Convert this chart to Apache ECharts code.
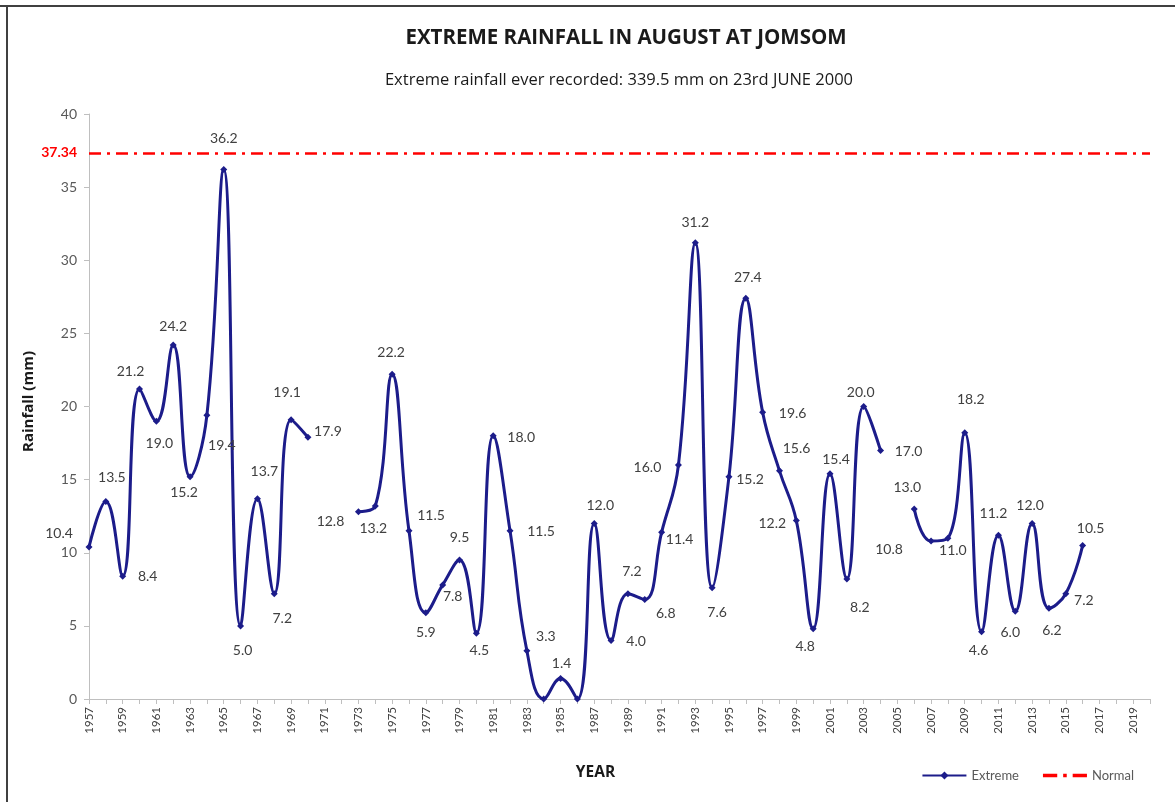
<!DOCTYPE html>
<html>
<head>
<meta charset="utf-8">
<script src="https://cdn.jsdelivr.net/npm/echarts@6/dist/echarts.min.js"></script>
<style>
html,body{margin:0;padding:0;background:#fff;}
#c{width:1175px;height:802px;}
</style>
</head>
<body>
<div id="c"></div>
<script>
const years = ['1957','1958','1959','1960','1961','1962','1963','1964','1965','1966','1967','1968','1969','1970',
  '1971','1972','1973','1974','1975','1976','1977','1978','1979','1980','1981','1982','1983','1984','1985','1986',
  '1987','1988','1989','1990','1991','1992','1993','1994','1995','1996','1997','1998','1999','2000','2001','2002',
  '2003','2004','2005','2006','2007','2008','2009','2010','2011','2012','2013','2014','2015','2016','2017','2018',
  '2019','2020'];
const extreme = [10.4,13.5,8.4,21.2,19.0,24.2,15.2,19.4,36.2,5.0,13.7,7.2,19.1,17.9,
  null,null,
  12.8,13.2,22.2,11.5,5.9,7.8,9.5,4.5,18.0,11.5,3.3,0,1.4,0,12.0,4.0,7.2,6.8,11.4,16.0,
  31.2,7.6,15.2,27.4,19.6,15.6,12.2,4.8,15.4,8.2,20.0,17.0,
  null,
  13.0,10.8,11.0,18.2,4.6,11.2,6.0,12.0,6.2,7.2,10.5,
  null,null,null,null];
const normalValue = 37.34;
const yTicks = {min:0, max:40, interval:5};

// label placement (style only): offset of each data label from its point
const labelOffsets = [[-30,-13],[6,-24],[25,0],[-9,-17],[3,22],[0,-19],[-6,16],[15,30],[0,-31],[2,25],[7,-27],[8,25],[-4,-27],[20,-6],
  null,null,
  [-28,10],[-2,23],[-1,-22],[22,-15],[0,20],[10,12],[0,-23],[3,17],[28,2],[31,1],[19,-14],null,[1,-15],null,[6,-18],[25,1],[4,-22],[21,14],[18,7],[-31,2],
  [0,-20],[5,25],[21,3],[2,-21],[30,1],[17,-22],[-24,3],[-8,18],[6,-14],[13,28],[-3,-14],[28,1],
  null,
  [-7,-21],[-42,8],[5,12],[6,-33],[-3,19],[-5,-22],[-5,21],[-2,-18],[3,22],[18,7],[8,-17],
  null,null,null,null];

const FONT = 'Lato, "Open Sans", sans-serif';
const chart = echarts.init(document.getElementById('c'));
const extremeData = extreme.map((v, i) => {
  const off = labelOffsets[i];
  return {
    value: v,
    label: off ? {show:true, position:'inside', offset: off} : {show:false}
  };
});

chart.setOption({
  animation:false,
  backgroundColor:'#fff',
  title:[
    {text:'EXTREME RAINFALL IN AUGUST AT JOMSOM', left:621, top:23, textAlign:'center',
     textStyle:{fontFamily:'"Open Sans", sans-serif', fontWeight:'bold', fontSize:20.5, color:'#1a1a1a'}},
    {text:'Extreme rainfall ever recorded: 339.5 mm on 23rd JUNE 2000', left:614, top:67, textAlign:'center',
     textStyle:{fontFamily:'"Open Sans", sans-serif', fontWeight:'normal', fontSize:16.5, color:'#1a1a1a'}}
  ],
  legend:{
    right:36, top:764, itemWidth:44, itemHeight:10, itemGap:24,
    textStyle:{fontFamily:FONT, fontSize:13, color:'#595959'},
    data:[
      {name:'Extreme'},
      {name:'Normal', icon:'path://M0,0h12v3h-12zM17,0h3v3h-3zM25,0h12v3h-12z', itemStyle:{color:'#ff0000'}}
    ]
  },
  grid:{left:89, right:25, top:114, bottom:103},
  xAxis:{
    type:'category', data:years, boundaryGap:false,
    name:'YEAR', nameLocation:'middle', nameGap:66,
    nameTextStyle:{fontFamily:'"Open Sans", sans-serif', fontWeight:'bold', fontSize:15.5, color:'#1a1a1a', padding:[0,48,0,0]},
    axisLine:{lineStyle:{color:'#bfbfbf', width:1}},
    axisTick:{show:true, interval:0, length:5, lineStyle:{color:'#bfbfbf'}},
    axisLabel:{interval:1, rotate:90, fontFamily:FONT, fontSize:11.5, color:'#404040', margin:8},
    splitLine:{show:false}
  },
  yAxis:{
    type:'value', min:yTicks.min, max:yTicks.max, interval:yTicks.interval,
    name:'Rainfall (mm)', nameLocation:'middle', nameGap:53, nameRotate:90,
    nameTextStyle:{fontFamily:'"Open Sans", sans-serif', fontWeight:'bold', fontSize:15, color:'#1a1a1a', padding:[0,0,0,10]},
    axisLine:{show:true, lineStyle:{color:'#bfbfbf', width:1}},
    axisTick:{show:true, length:5, lineStyle:{color:'#bfbfbf'}},
    axisLabel:{fontFamily:FONT, fontSize:14, color:'#595959', margin:12},
    splitLine:{show:false}
  },
  series:[
    {
      name:'Extreme', type:'line', data:extremeData, smooth:0.45, connectNulls:false,
      symbol:'diamond', symbolSize:7, showAllSymbol:true,
      lineStyle:{color:'#1c1c8a', width:3},
      itemStyle:{color:'#1c1c8a'},
      label:{show:true, formatter:p => (p.value == null ? '' : Number(p.value).toFixed(1)),
        fontFamily:FONT, fontSize:14, color:'#404040'},
      z:3
    },
    {
      name:'Normal', type:'line', data:years.map(() => null), symbol:'none', showSymbol:false,
      lineStyle:{color:'#ff0000', width:2.5, type:[12,6,3,6]},
      itemStyle:{color:'#ff0000'},
      markLine:{
        silent:true, symbol:['none','none'],
        lineStyle:{color:'#ff0000', width:2.5, type:[12,6,3,6]},
        label:{show:true, position:'start', distance:12, formatter:String(normalValue),
          fontFamily:FONT, fontWeight:'bold', fontSize:14, color:'#ff0000'},
        data:[{yAxis:normalValue}]
      },
      z:2
    }
  ],
  graphic:[
    {type:'line', shape:{x1:0, y1:6, x2:1175, y2:6}, style:{stroke:'#404040', lineWidth:2}},
    {type:'line', shape:{x1:7, y1:6, x2:7, y2:802}, style:{stroke:'#404040', lineWidth:2}}
  ]
});
</script>
</body>
</html>
